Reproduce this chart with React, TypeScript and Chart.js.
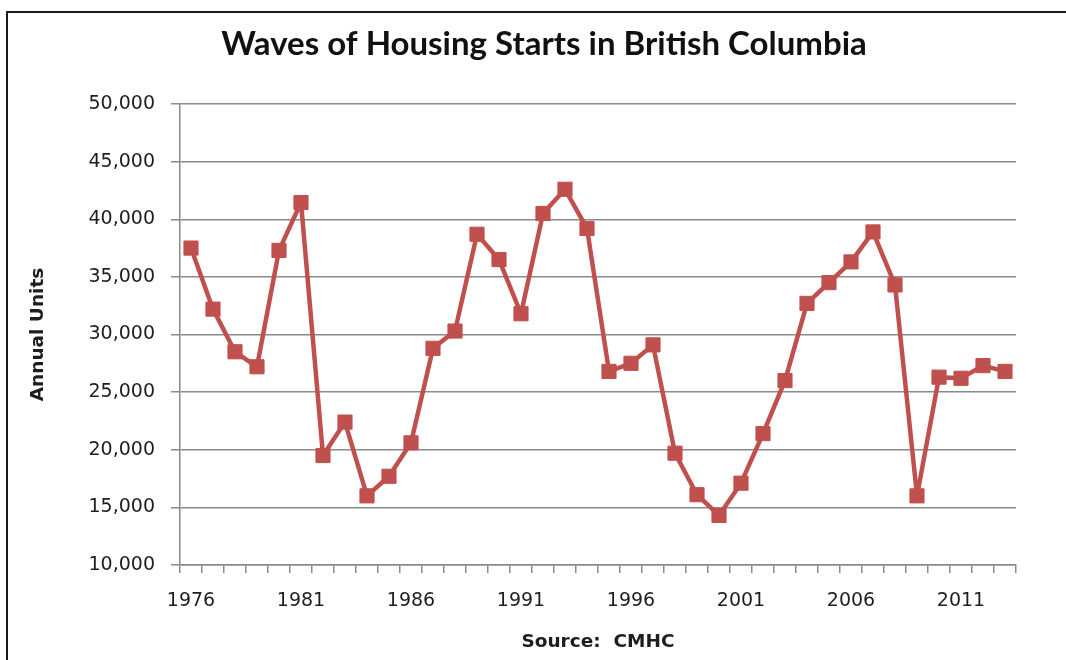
import React, { useEffect, useRef } from "react";
import { Chart, registerables } from "chart.js";

Chart.register(...registerables);

const YEARS: string[] = [
  "1976", "1977", "1978", "1979", "1980", "1981", "1982", "1983", "1984", "1985",
  "1986", "1987", "1988", "1989", "1990", "1991", "1992", "1993", "1994", "1995",
  "1996", "1997", "1998", "1999", "2000", "2001", "2002", "2003", "2004", "2005",
  "2006", "2007", "2008", "2009", "2010", "2011", "2012", "2013",
];

const HOUSING_STARTS: number[] = [
  37500, 32200, 28500, 27200, 37300, 41450, 19500, 22400, 16000, 17700,
  20600, 28800, 30300, 38700, 36500, 31800, 40500, 42600, 39200, 26800,
  27500, 29100, 19700, 16100, 14300, 17100, 21400, 26000, 32700, 34500,
  36300, 38900, 34300, 16000, 26300, 26200, 27300, 26800,
];

const Y_MIN = 10000;
const Y_MAX = 50000;
const Y_STEP = 5000;

const TITLE = "Waves of Housing Starts in British Columbia";
const Y_TITLE = "Annual Units";
const X_TITLE = "Source:  CMHC";

const LINE_COLOR = "#C0504D";
const GRID_COLOR = "#8a8a8a";
const TEXT_COLOR = "#1e1e1e";

export default function App() {
  const canvasRef = useRef<HTMLCanvasElement | null>(null);

  useEffect(() => {
    if (!canvasRef.current) return;
    const chart = new Chart(canvasRef.current, {
      type: "line",
      data: {
        labels: YEARS,
        datasets: [
          {
            label: "Housing starts",
            data: HOUSING_STARTS,
            borderColor: LINE_COLOR,
            backgroundColor: LINE_COLOR,
            borderWidth: 4.5,
            borderJoinStyle: "round",
            pointStyle: "rect",
            pointRadius: 10,
            pointBorderWidth: 1,
            pointBackgroundColor: LINE_COLOR,
            pointBorderColor: LINE_COLOR,
            tension: 0,
          },
        ],
      },
      options: {
        responsive: false,
        animation: false,
        layout: { padding: { left: 72, right: 50, top: 0, bottom: 0 } },
        plugins: {
          legend: { display: false },
          tooltip: { enabled: false },
          title: {
            display: true,
            text: TITLE,
            color: "#111",
            font: { family: "Lato, 'Open Sans', sans-serif", size: 33, weight: "bold", lineHeight: 1.2 },
            padding: { top: 25, bottom: 39.4 },
          },
        },
        scales: {
          x: {
            type: "category",
            offset: true,
            grid: {
              display: true,
              drawOnChartArea: false,
              drawTicks: true,
              tickLength: 8,
              offset: true,
              color: GRID_COLOR,
              lineWidth: 1.5,
            },
            border: { display: true, color: GRID_COLOR, width: 1.5 },
            ticks: {
              autoSkip: false,
              maxRotation: 0,
              minRotation: 0,
              padding: 17,
              color: TEXT_COLOR,
              font: { family: "'DejaVu Sans', Verdana, sans-serif", size: 19 },
              callback: (_v: any, i: number) => ((i % 5 === 0) ? YEARS[i] : ""),
            },
            title: {
              display: true,
              text: X_TITLE,
              color: TEXT_COLOR,
              font: { family: "'DejaVu Sans', Verdana, sans-serif", size: 18.5, weight: "bold", lineHeight: 1.2 },
              padding: { top: 0, bottom: 6.9 },
            },
            afterFit: (s: any) => { s.height = 95; },
          },
          y: {
            type: "linear",
            position: "left",
            min: Y_MIN,
            max: Y_MAX,
            grid: {
              color: GRID_COLOR,
              lineWidth: 1.5,
              drawTicks: true,
              tickLength: 9,
            },
            border: { display: true, color: GRID_COLOR, width: 1.5 },
            ticks: {
              stepSize: Y_STEP,
              padding: 16,
              color: TEXT_COLOR,
              font: { family: "'DejaVu Sans', Verdana, sans-serif", size: 19 },
              callback: (v: any) => Number(v).toLocaleString("en-US"),
            },
            title: {
              display: true,
              text: Y_TITLE,
              color: TEXT_COLOR,
              font: { family: "'DejaVu Sans', Verdana, sans-serif", size: 18.5, weight: "bold", lineHeight: 1.2 },
              padding: { top: -45.1, bottom: 0 },
            },
            afterFit: (s: any) => { s.width = 108; },
          },
        },
      },
    });
    return () => chart.destroy();
  }, []);

  return (
    <div style={{ position: "absolute", left: 0, top: 0, width: 1066, height: 660, background: "#fff" }}>
      <div
        style={{
          position: "absolute",
          left: 6,
          top: 11,
          width: 1060,
          height: 2,
          background: "#1a1a1a",
        }}
      />
      <div
        style={{
          position: "absolute",
          left: 6,
          top: 11,
          width: 2,
          height: 649,
          background: "#1a1a1a",
        }}
      />
      <canvas
        ref={canvasRef}
        width={1066}
        height={660}
        style={{ position: "absolute", left: 0, top: 0, width: 1066, height: 660 }}
      />
    </div>
  );
}
